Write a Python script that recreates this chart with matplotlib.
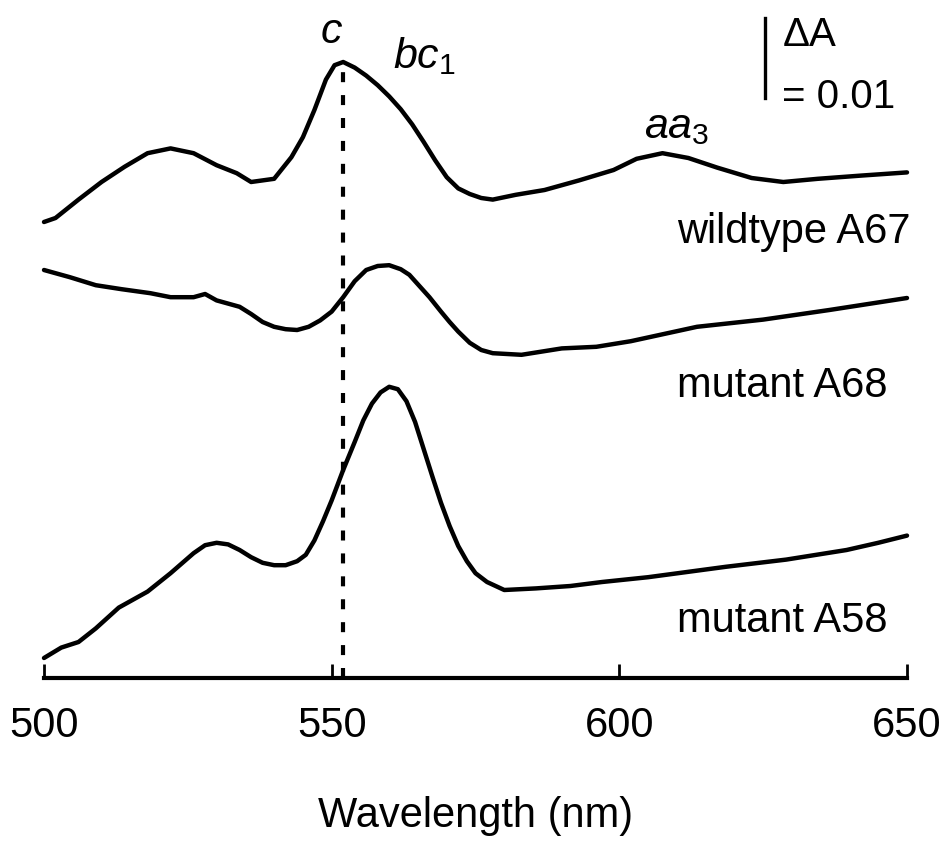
import matplotlib.pyplot as plt

plt.rcParams['font.family'] = ['Liberation Sans', 'DejaVu Sans']
plt.rcParams['mathtext.fontset'] = 'custom'
plt.rcParams['mathtext.it'] = 'Liberation Sans:italic'
plt.rcParams['mathtext.rm'] = 'Liberation Sans'

# difference spectra, stacked (units of 0.001 absorbance)
wild_x = [500, 502, 506, 510, 514, 518, 522, 526, 530, 533.5, 536, 540, 543, 545, 547, 549, 550.5,
          552, 554, 556, 558, 560, 562, 564, 566, 568, 570, 572, 574, 576, 578, 582, 587, 593, 599,
          603, 607.5, 612, 617, 623, 628.5, 634.5, 642, 650]
wild_y = [57.0, 57.5, 59.8, 62.0, 63.9, 65.6, 66.2, 65.6, 64.1, 63.1, 62.0, 62.4, 65.1, 67.6, 71.0,
          74.8, 76.6, 77.0, 76.3, 75.3, 74.1, 72.7, 71.1, 69.2, 67.0, 64.7, 62.6, 61.2, 60.5, 60.0,
          59.8, 60.4, 61.0, 62.2, 63.5, 64.9, 65.6, 65.0, 63.8, 62.5, 62.0, 62.4, 62.8, 63.2]

a68_x = [500, 504.5, 509, 513.5, 518.5, 522, 526, 528, 530, 534, 536, 538, 540, 542, 544, 546, 548,
         550, 552, 554, 556, 558, 560, 562, 563.5, 565, 567, 569, 570.5, 572, 574, 576, 578, 583,
         590, 596, 602, 613.5, 625, 636.5, 650]
a68_y = [51.0, 50.1, 49.1, 48.6, 48.1, 47.6, 47.6, 48.0, 47.2, 46.4, 45.5, 44.5, 43.9, 43.6, 43.5,
         43.9, 44.7, 45.8, 47.6, 49.6, 51.0, 51.5, 51.6, 51.1, 50.4, 49.2, 47.6, 45.8, 44.5, 43.3,
         41.9, 41.0, 40.6, 40.4, 41.2, 41.4, 42.1, 43.9, 44.8, 46.0, 47.5]

a58_x = [500, 503, 506, 509, 513, 518, 522, 526, 528, 530, 532, 534, 536, 538, 540, 542, 544,
         545.5, 547, 548.5, 550, 552, 554, 555.5, 557, 558.5, 560, 561.5, 563, 564.5, 566, 567.5,
         569, 570.5, 572, 573.5, 575, 577, 580, 585.5, 591.5, 597, 605, 618.5, 629, 639.5, 645, 650]
a58_y = [2.5, 3.8, 4.5, 6.2, 8.8, 10.8, 13.1, 15.6, 16.6, 16.9, 16.7, 16.0, 15.1, 14.4, 14.1, 14.1,
         14.6, 15.4, 17.2, 19.6, 22.2, 26.0, 29.5, 32.2, 34.3, 35.7, 36.4, 36.1, 34.6, 32.0, 28.6,
         25.2, 21.9, 19.0, 16.5, 14.6, 13.1, 12.0, 11.0, 11.2, 11.5, 12.0, 12.6, 13.9, 14.8, 16.0,
         16.9, 17.8]

c_peak = 552
xticks = [500, 550, 600, 650]

fig = plt.figure(figsize=(9.48, 8.48), dpi=100)
ax = fig.add_axes([44 / 948, 170 / 848, 863 / 948, 678 / 848])

lw = 3.2
for xs, ys in [(wild_x, wild_y), (a68_x, a68_y), (a58_x, a58_y)]:
    ax.plot(xs, ys, color='black', lw=lw, clip_on=False,
            solid_joinstyle='round', solid_capstyle='round')

dash, = ax.plot([c_peak, c_peak], [0, 76.4], color='black', lw=3)
dash.set_dashes((2.4, 3.1))

# scale bar: dA = 0.01
ax.plot([625.3, 625.3], [72.5, 82.5], color='black', lw=2.4, clip_on=False)
ax.text(628.3, 79.0, r'$\mathregular{\Delta}$A', fontsize=29, ha='left', va='baseline')
ax.text(628.3, 71.25, '= 0.01', fontsize=29, ha='left', va='baseline')

ax.text(548, 79.4, r'$c$', fontsize=31, ha='left', va='baseline')
ax.text(560.7, 76.25, r'$bc_\mathregular{1}$', fontsize=31, ha='left', va='baseline')
ax.text(604.3, 67.5, r'$aa_\mathregular{3}$', fontsize=31, ha='left', va='baseline')

ax.text(610, 54.4, 'wildtype A67', fontsize=30, ha='left', va='baseline')
ax.text(610, 35.1, 'mutant A68', fontsize=30, ha='left', va='baseline')
ax.text(610, 5.75, 'mutant A58', fontsize=30, ha='left', va='baseline')

ax.set_xlim(500, 650)
ax.set_ylim(0, 84.75)
ax.set_xticks(xticks)
ax.set_yticks([])
for s in ['left', 'top', 'right']:
    ax.spines[s].set_visible(False)
ax.spines['bottom'].set_linewidth(3)
ax.tick_params(axis='x', direction='in', length=10, width=2, labelsize=30, pad=20)
ax.set_xlabel('Wavelength (nm)', fontsize=30, labelpad=36)
ax.patch.set_alpha(0)

fig.savefig('out.png', dpi=100)
